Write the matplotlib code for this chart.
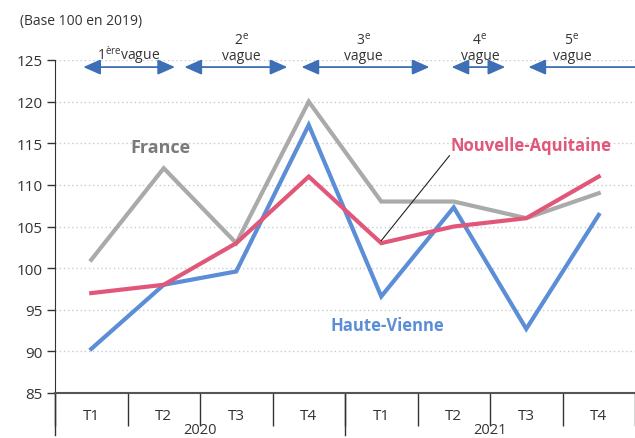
import matplotlib
matplotlib.use("Agg")
import matplotlib.pyplot as plt

plt.rcParams['font.family'] = ['Open Sans', 'DejaVu Sans']
plt.rcParams['mathtext.fontset'] = 'custom'
plt.rcParams['mathtext.rm'] = 'Open Sans'
plt.rcParams['mathtext.it'] = 'Open Sans'

quarters = ["T1", "T2", "T3", "T4", "T1", "T2", "T3", "T4"]
years = ["2020", "2021"]
france = [101, 112, 103, 120, 108, 108, 106, 109]
nouvelle_aquitaine = [97, 98, 103, 111, 103, 105, 106, 111]
haute_vienne = [90.3, 98, 99.6, 117.2, 96.6, 107.3, 92.7, 106.4]
yticks = [85, 90, 95, 100, 105, 110, 115, 120, 125]

# waves: (start, end, label centre, label, left head, right head) in category units
waves = [
    (-0.11, 1.155, 0.51, "1$^{\\mathrm{ère}}$vague", True, True),
    (1.285, 2.705, 2.07, "2$^{\\mathrm{e}}$\nvague", True, True),
    (2.9, 4.665, 3.75, "3$^{\\mathrm{e}}$\nvague", True, True),
    (4.97, 5.71, 5.36, "4$^{\\mathrm{e}}$\nvague", True, True),
    (6.03, 7.5, 6.63, "5$^{\\mathrm{e}}$\nvague", True, False),
]

W, H = 635, 439
fig = plt.figure(figsize=(W / 100, H / 100), dpi=100)
ax = fig.add_axes([55 / W, 45 / H, 580 / W, 333 / H])

x = list(range(len(quarters)))
grey = "#aaaaaa"
pink = "#e0577a"
blue = "#5b8ed6"
ax.plot(x, france, color=grey, lw=3, solid_joinstyle="miter", zorder=3)
ax.plot(x, haute_vienne, color=blue, lw=3, solid_joinstyle="miter", zorder=4)
ax.plot(x, nouvelle_aquitaine, color=pink, lw=3, solid_joinstyle="miter", zorder=5)

ax.set_xlim(-0.5, 7.5)
ax.set_ylim(85, 125)
ax.set_yticks(yticks)
ax.tick_params(axis='y', labelsize=11, length=6, width=1, color="#333333", labelcolor="#333333", pad=3)
for yv in yticks[1:]:
    ax.axhline(yv, color="#c8ccd4", lw=1, ls=(0, (1, 2)), zorder=1)

for s in ["top", "right"]:
    ax.spines[s].set_visible(False)
ax.spines["left"].set_color("#333333")
ax.spines["bottom"].set_color("#555555")
ax.spines["bottom"].set_linewidth(1.5)

ax.set_xticks(x)
ax.set_xticklabels(quarters, fontsize=11, color="#333333")
ax.tick_params(axis='x', length=0, pad=11)
ax.set_xticks([i + 0.5 for i in range(-1, 8)], minor=True)
ax.tick_params(axis='x', which='minor', length=24, width=1, color="#333333")

# longer separators
for xv in [-0.5, 3.5]:
    ax.plot([xv, xv], [85, 80], color="#333333", lw=1, clip_on=False)
for i, yr in enumerate(years):
    ax.text(1.5 + 4 * i, 80.6, yr, ha="center", va="center", fontsize=10.5, color="#333333", clip_on=False)

# series labels
ax.text(0.96, 114.5, "France", color="#7a7a7a", fontsize=13, fontweight="bold", ha="center", va="center")
ax.text(6.07, 114.8, "Nouvelle-Aquitaine", color=pink, fontsize=12, fontweight="bold", ha="center", va="center")
ax.text(4.08, 93.2, "Haute-Vienne", color=blue, fontsize=12, fontweight="bold", ha="center", va="center")
ax.plot([4.0, 4.94], [103.3, 113.5], color="#222222", lw=0.8, zorder=6)

# waves
arrow_y = 124.15
for (a, b, c, lab, lh, rh) in waves:
    style = "<|-|>" if (lh and rh) else ("<|-" if lh else "-|>")
    style += ",head_length=0.75,head_width=0.33"
    ax.annotate("", xy=(b, arrow_y), xytext=(a, arrow_y),
                arrowprops=dict(arrowstyle=style, color="#3d6fb6", lw=1.3,
                                mutation_scale=14, shrinkA=0, shrinkB=0),
                annotation_clip=False)
    ax.text(c, 125.15, lab, ha="center", va="baseline", fontsize=10,
            color="#333333", linespacing=1.0, clip_on=False)

fig.text(20 / W, 1 - 22 / H, "(Base 100 en 2019)", fontsize=10, color="#333333", va="center", ha="left")

fig.savefig("out.png", dpi=100)
